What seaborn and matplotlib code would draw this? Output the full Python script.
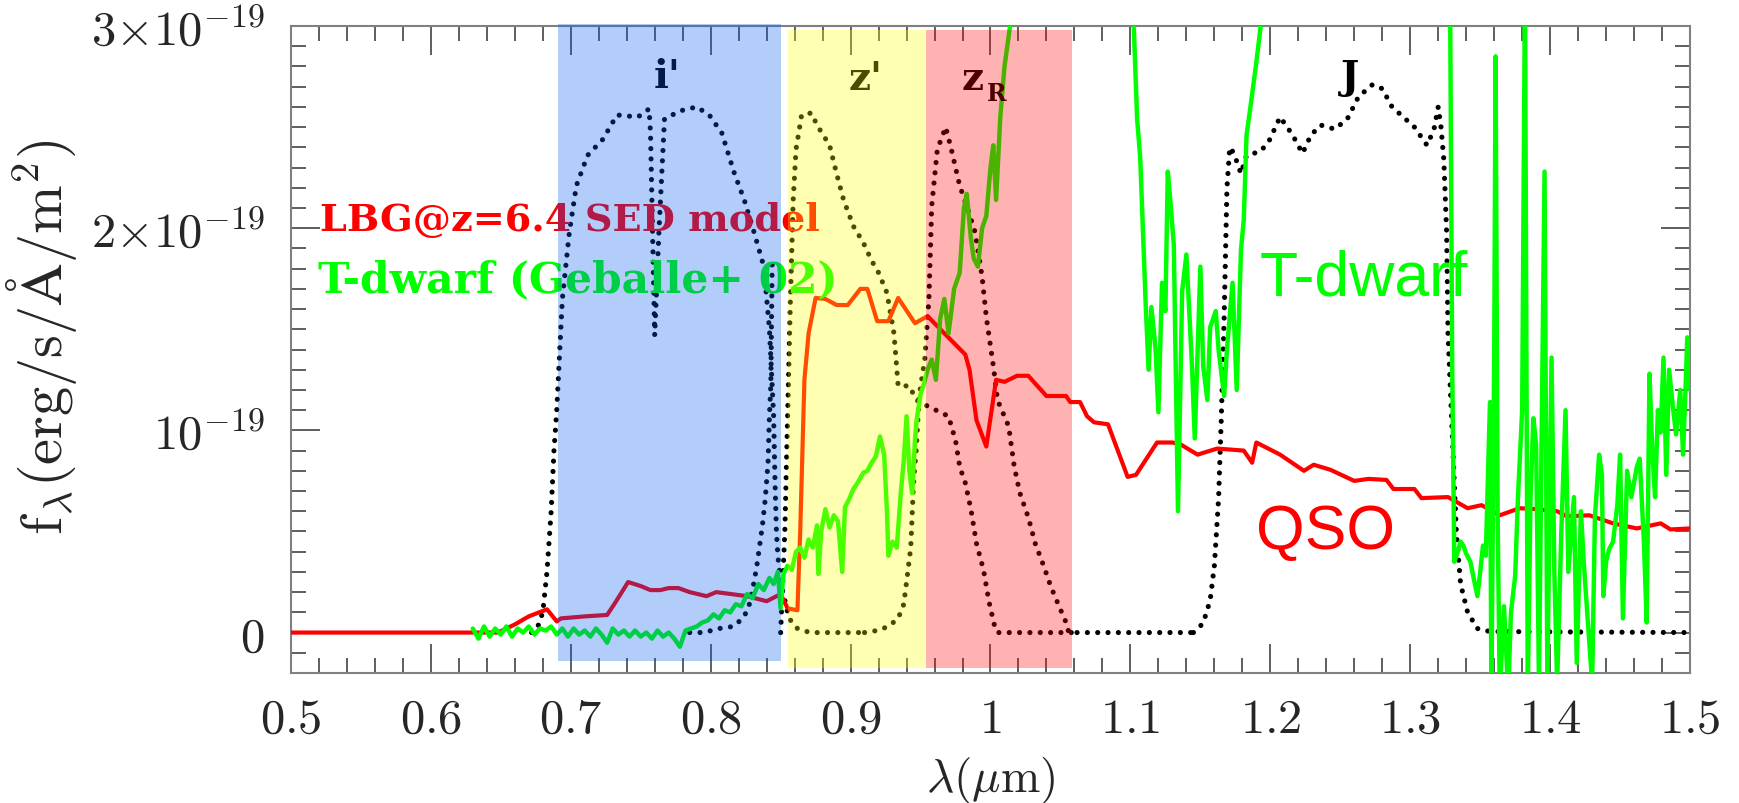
import matplotlib
matplotlib.use("Agg")
import matplotlib.pyplot as plt
from matplotlib.patches import Rectangle
from matplotlib.ticker import MultipleLocator, FuncFormatter
import seaborn as sns

# Wavelength in micron, flux density in units of 1e-19 erg/s/A/m^2
qso_wl = [0.500, 0.648, 0.660, 0.670, 0.683, 0.690, 0.693, 0.710, 0.726, 0.732,
          0.741, 0.750, 0.757, 0.764, 0.770, 0.777, 0.785, 0.797, 0.804, 0.815,
          0.826, 0.840, 0.850, 0.855, 0.862, 0.864, 0.867, 0.870, 0.875, 0.882,
          0.890, 0.898, 0.907, 0.912, 0.919, 0.927, 0.934, 0.946, 0.955, 0.967,
          0.982, 0.985, 0.990, 0.997, 1.004, 1.010, 1.019, 1.027, 1.040, 1.054,
          1.057, 1.064, 1.069, 1.074, 1.084, 1.098, 1.104, 1.119, 1.130, 1.136,
          1.148, 1.162, 1.181, 1.187, 1.190, 1.207, 1.224, 1.231, 1.243, 1.260,
          1.270, 1.283, 1.288, 1.303, 1.308, 1.327, 1.341, 1.351, 1.364, 1.378,
          1.391, 1.405, 1.412, 1.428, 1.445, 1.462, 1.479, 1.486, 1.500]
qso_flux = [0.0, 0.0, 0.04, 0.08, 0.115, 0.055, 0.07, 0.08, 0.087, 0.15,
            0.25, 0.23, 0.21, 0.21, 0.22, 0.22, 0.20, 0.18, 0.20, 0.19,
            0.18, 0.155, 0.19, 0.12, 0.11, 0.50, 1.25, 1.48, 1.655, 1.65,
            1.62, 1.62, 1.70, 1.70, 1.54, 1.54, 1.655, 1.53, 1.565, 1.48,
            1.375, 1.30, 1.05, 0.92, 1.25, 1.24, 1.27, 1.27, 1.17, 1.17,
            1.14, 1.14, 1.07, 1.04, 1.03, 0.77, 0.78, 0.94, 0.94, 0.93,
            0.88, 0.91, 0.90, 0.84, 0.94, 0.88, 0.80, 0.83, 0.805, 0.75,
            0.76, 0.755, 0.71, 0.71, 0.665, 0.67, 0.615, 0.63, 0.58, 0.615,
            0.61, 0.60, 0.575, 0.58, 0.54, 0.515, 0.54, 0.51, 0.515]

tdwarf_wl = [
    0.630, 0.634, 0.638, 0.642, 0.646, 0.650, 0.654, 0.658, 0.662, 0.666,
    0.670, 0.674, 0.678, 0.682, 0.686, 0.690, 0.694, 0.698, 0.702, 0.706,
    0.710, 0.714, 0.718, 0.722, 0.726, 0.730, 0.734, 0.738, 0.742, 0.746,
    0.750, 0.754, 0.758, 0.762, 0.766, 0.770, 0.774, 0.778, 0.782, 0.786,
    0.790, 0.794, 0.798,
    0.802, 0.806, 0.810, 0.814, 0.818, 0.822, 0.826, 0.830, 0.834, 0.838,
    0.842, 0.845, 0.848, 0.850, 0.852, 0.855, 0.858, 0.861, 0.864, 0.867,
    0.870, 0.873, 0.876, 0.877, 0.879, 0.882, 0.885, 0.888, 0.891, 0.894,
    0.896, 0.899, 0.902, 0.905, 0.909, 0.912, 0.915, 0.918, 0.921, 0.924,
    0.926, 0.927, 0.930, 0.933, 0.936, 0.938, 0.940, 0.942, 0.944, 0.946,
    0.947, 0.950, 0.952,
    0.955, 0.958, 0.961, 0.964, 0.967, 0.970, 0.974, 0.978, 0.981, 0.983,
    0.986, 0.988, 0.991, 0.994, 0.997, 1.000, 1.002, 1.004, 1.007, 1.010,
    1.013, 1.016, 1.020, 1.060,
    1.100, 1.1024, 1.1048, 1.107, 1.1095, 1.111, 1.113, 1.115, 1.118, 1.120,
    1.1226, 1.125, 1.1267, 1.1286, 1.131, 1.134, 1.137, 1.140, 1.144, 1.146,
    1.150, 1.152, 1.155, 1.157, 1.161, 1.163, 1.167, 1.169, 1.173, 1.176,
    1.179, 1.181, 1.183, 1.186, 1.190, 1.194, 1.200, 1.260,
    1.326, 1.3286, 1.330, 1.331, 1.3315, 1.334, 1.336, 1.338, 1.340, 1.343,
    1.345, 1.348, 1.350, 1.352, 1.354, 1.357, 1.358, 1.360, 1.361, 1.3625,
    1.364, 1.367, 1.370, 1.372, 1.375, 1.377, 1.380, 1.382, 1.384, 1.386,
    1.388, 1.390, 1.392, 1.396, 1.398, 1.401, 1.403, 1.405, 1.408, 1.411,
    1.413, 1.417, 1.419, 1.422, 1.424, 1.426, 1.430, 1.432, 1.435, 1.437,
    1.438, 1.440, 1.442, 1.445, 1.448, 1.450, 1.452, 1.455, 1.458, 1.462,
    1.464, 1.467, 1.469, 1.471, 1.473, 1.475, 1.477, 1.479, 1.481, 1.483,
    1.485, 1.488, 1.490, 1.493, 1.495, 1.497, 1.498, 1.500]
tdwarf_flux = [
    0.02, -0.03, 0.03, -0.02, 0.02, -0.01, 0.03, -0.02, 0.02, 0.00,
    0.03, -0.01, 0.02, 0.01, 0.03, -0.01, 0.02, -0.02, 0.02, -0.01,
    0.01, -0.02, 0.02, -0.01, -0.05, 0.02, -0.01, 0.01, -0.02, 0.01,
    -0.02, 0.00, -0.03, 0.01, -0.02, 0.00, -0.03, -0.07, 0.01, 0.02,
    0.03, 0.05, 0.06,
    0.09, 0.07, 0.11, 0.10, 0.14, 0.13, 0.19, 0.17, 0.24, 0.21,
    0.27, 0.24, 0.30, 0.12, 0.29, 0.33, 0.31, 0.40, 0.42, 0.37,
    0.46, 0.42, 0.53, 0.29, 0.50, 0.61, 0.52, 0.58, 0.55, 0.30,
    0.62, 0.66, 0.71, 0.74, 0.79, 0.80, 0.84, 0.87, 0.97, 0.88,
    0.60, 0.38, 0.45, 0.42, 0.70, 0.85, 1.07, 0.80, 0.69, 0.95,
    1.04, 1.18, 1.22,
    1.30, 1.35, 1.25, 1.55, 1.65, 1.48, 1.70, 1.78, 2.10, 2.17,
    1.95, 1.85, 1.81, 2.00, 2.06, 2.30, 2.41, 2.14, 2.55, 2.80,
    2.95, 3.10, 3.60, 4.50,
    3.60, 3.00, 2.54, 2.35, 1.89, 1.61, 1.30, 1.61, 1.40, 1.09,
    1.73, 1.59, 2.28, 2.13, 1.92, 0.60, 1.69, 1.87, 1.32, 0.96,
    1.81, 1.32, 1.15, 1.51, 1.59, 1.40, 1.17, 1.40, 1.73, 1.20,
    1.89, 2.04, 2.46, 2.61, 2.82, 3.05, 3.60, 4.50,
    4.50, 3.00, 1.31, 0.67, 0.35, 0.40, 0.45, 0.43, 0.39, 0.35,
    0.28, 0.18, 0.30, 0.43, 0.38, 1.14, -0.30, 1.36, 2.85, 0.55,
    -0.30, 0.13, -0.30, 0.10, 0.28, 0.67, 1.10, 3.20, -0.30, 0.67,
    1.06, 0.93, -0.25, 2.28, -0.25, 1.36, 0.30, -0.25, 0.50, 1.10,
    0.30, 0.67, -0.15, 0.60, 0.35, 0.15, -0.25, 0.57, 0.88, 0.78,
    0.18, 0.35, 0.41, 0.45, 0.63, 0.88, 0.07, 0.80, 0.67, 0.82,
    0.86, 0.45, 0.05, 1.28, 0.90, 0.67, 1.10, 0.99, 1.36, 0.78,
    1.30, 1.10, 0.98, 1.20, 0.88, 1.25, 1.46, 1.20]

# Filter transmission curves, scaled onto the flux axis
ip_wl = [0.672, 0.676, 0.680, 0.683, 0.686, 0.688, 0.690, 0.694, 0.699, 0.704,
         0.712, 0.723, 0.733, 0.748, 0.756, 0.757, 0.760, 0.763, 0.767, 0.778,
         0.790, 0.799, 0.808, 0.817, 0.824, 0.831, 0.838, 0.842, 0.845, 0.846,
         0.847, 0.848, 0.850, 0.856, 0.862, 0.871, 0.910]
ip_resp = [0.0, 0.02, 0.10, 0.30, 0.60, 0.90, 1.10, 1.65, 1.98, 2.21,
           2.36, 2.44, 2.56, 2.55, 2.59, 2.47, 1.47, 1.98, 2.54, 2.58,
           2.60, 2.56, 2.47, 2.27, 2.14, 1.98, 1.81, 1.50, 1.07, 0.74,
           0.50, 0.38, 0.25, 0.07, 0.02, 0.0, 0.0]
ip_wing_wl = [0.785, 0.795, 0.806, 0.816, 0.823, 0.827, 0.831, 0.833, 0.837,
              0.839, 0.841, 0.842, 0.843, 0.8435, 0.844]
ip_wing_resp = [0.0, 0.0, 0.02, 0.03, 0.07, 0.12, 0.25, 0.33, 0.53,
                0.66, 0.84, 1.07, 1.23, 1.55, 1.85]
zp_wl = [0.850, 0.853, 0.855, 0.857, 0.859, 0.861, 0.865, 0.872, 0.876, 0.885,
         0.890, 0.895, 0.902, 0.909, 0.915, 0.920, 0.926, 0.931, 0.934, 0.942,
         0.947, 0.955, 0.964, 0.970, 0.975, 0.978, 0.982, 0.986, 0.990, 0.995,
         0.999, 1.003, 1.005, 1.060]
zp_resp = [0.0, 0.50, 1.07, 1.65, 2.14, 2.39, 2.56, 2.57, 2.51, 2.41,
           2.27, 2.14, 2.01, 1.93, 1.84, 1.78, 1.68, 1.48, 1.22, 1.22,
           1.15, 1.12, 1.09, 1.07, 0.95, 0.82, 0.74, 0.61, 0.44, 0.31,
           0.15, 0.03, 0.0, 0.0]
zr_wl = [0.910, 0.919, 0.927, 0.934, 0.938, 0.940, 0.943, 0.945, 0.947, 0.949,
         0.953, 0.956, 0.958, 0.962, 0.968, 0.972, 0.978, 0.983, 0.989, 0.994,
         0.997, 1.002, 1.005, 1.013, 1.017, 1.021, 1.027, 1.032, 1.038, 1.043,
         1.049, 1.054, 1.056, 1.145]
zr_resp = [0.0, 0.01, 0.03, 0.07, 0.14, 0.25, 0.42, 0.74, 0.91, 1.17,
           1.35, 1.65, 2.11, 2.39, 2.50, 2.39, 2.21, 2.11, 1.98, 1.76,
           1.56, 1.32, 1.15, 1.02, 0.82, 0.69, 0.57, 0.44, 0.33, 0.23,
           0.13, 0.05, 0.0, 0.0]
j_wl = [1.145, 1.152, 1.157, 1.160, 1.163, 1.165, 1.167, 1.169, 1.171, 1.174,
        1.179, 1.183, 1.193, 1.199, 1.207, 1.216, 1.223, 1.229, 1.236, 1.246,
        1.255, 1.263, 1.273, 1.280, 1.287, 1.295, 1.303, 1.312, 1.317, 1.320,
        1.322, 1.324, 1.326, 1.327, 1.329, 1.331, 1.333, 1.336, 1.341, 1.348,
        1.357, 1.500]
j_resp = [0.0, 0.046, 0.16, 0.33, 0.66, 1.07, 1.56, 2.20, 2.40, 2.37,
          2.27, 2.36, 2.38, 2.43, 2.55, 2.46, 2.37, 2.46, 2.51, 2.49,
          2.54, 2.65, 2.71, 2.69, 2.60, 2.55, 2.50, 2.41, 2.49, 2.60,
          2.50, 2.34, 1.98, 1.48, 1.15, 0.82, 0.49, 0.24, 0.10, 0.02,
          0.005, 0.0]

# Shaded pass-bands (micron)
band_lo = [0.691, 0.855, 0.954]
band_hi = [0.850, 0.954, 1.058]

# ---- style ----
sns.set_theme(style="ticks")
plt.rcParams["font.family"] = ["DejaVu Serif", "DejaVu Sans"]
plt.rcParams["mathtext.fontset"] = "cm"

RED = "#ff0000"
GREEN = "#00ff00"
band_colors = ["#005af0", "#ffff00", "#ff0000"]
band_alpha = 0.30
band_bottom = [-0.14, -0.175, -0.175]
band_top = [3.01, 2.98, 2.98]

fig = plt.figure(figsize=(17.40, 8.04), dpi=100)
ax = fig.add_axes([0.1672, 0.1617, 0.8041, 0.8047])


def draw(wl, val, color, lw, dotted=False):
    sns.lineplot(x=wl, y=val, color=color, sort=False, estimator=None, ax=ax)
    line = ax.lines[-1]
    line.set_linewidth(lw)
    line.set_solid_joinstyle("round")
    if dotted:
        line.set_linestyle((0, (0.01, 2.0)))
        line.set_dash_capstyle("round")
        line.set_zorder(3)
    else:
        line.set_zorder(4)


for wl, resp in [(ip_wl, ip_resp), (ip_wing_wl, ip_wing_resp), (zp_wl, zp_resp),
                 (zr_wl, zr_resp), (j_wl, j_resp)]:
    draw(wl, resp, "black", 3.7, dotted=True)

draw(qso_wl, qso_flux, RED, 3.0)
draw(tdwarf_wl, tdwarf_flux, GREEN, 3.2)

# Legend-like captions
cap_font = dict(family="DejaVu Serif", weight="bold", zorder=5)
ax.text(0.521, 1.99, "LBG@z=6.4 SED model", color=RED, ha="left",
        va="baseline", fontsize=27.5, **cap_font)
ax.text(0.519, 1.69, "T-dwarf (Geballe+ 02)", color=GREEN, ha="left",
        va="baseline", fontsize=30.5, **cap_font)

big_font = dict(family="Liberation Sans", fontsize=45, zorder=5)
ax.text(1.192, 1.67, "T-dwarf", color=GREEN, ha="left", va="baseline", **big_font)
ax.text(1.190, 0.42, "QSO", color=RED, ha="left", va="baseline", **big_font)

# Filter names
band_font = dict(family="DejaVu Serif", weight="bold", fontsize=28,
                 color="black", zorder=5, va="baseline")
ax.text(0.769, 2.70, "i'", ha="center", **band_font)
ax.text(0.911, 2.69, "z'", ha="center", **band_font)
ax.text(0.9875, 2.69, "z", ha="center", **band_font)
ax.text(0.9975, 2.635, "R", ha="left", family="DejaVu Serif", weight="bold",
        fontsize=17, color="black", zorder=5, va="baseline")
ax.text(1.257, 2.695, "J", ha="center", **band_font)

# Translucent pass-band overlays
for lo, hi, c, b, t in zip(band_lo, band_hi, band_colors, band_bottom, band_top):
    ax.add_patch(Rectangle((lo, b), hi - lo, t - b, facecolor=c, edgecolor="none",
                           alpha=band_alpha, zorder=10, clip_on=False))

# Axes
ax.set_xlim(0.5, 1.5)
ax.set_ylim(-0.2, 3.0)
ax.xaxis.set_major_locator(MultipleLocator(0.1))
ax.xaxis.set_minor_locator(MultipleLocator(0.02))
ax.yaxis.set_major_locator(MultipleLocator(1.0))
ax.yaxis.set_minor_locator(MultipleLocator(0.1))


def xfmt(v, pos):
    return f"${round(v, 1):g}$"


def yfmt(v, pos):
    n = int(round(v))
    if n == 0:
        return "$0$"
    if n == 1:
        return r"$10^{-19}$"
    return rf"${n}{{\times}}10^{{-19}}$"


ax.xaxis.set_major_formatter(FuncFormatter(xfmt))
ax.yaxis.set_major_formatter(FuncFormatter(yfmt))
ax.tick_params(which="both", direction="in", top=True, right=True,
               color="#333333", width=1.1)
ax.tick_params(which="major", length=21)
ax.tick_params(which="minor", length=11)
ax.tick_params(axis="x", which="major", labelsize=35, pad=16)
ax.tick_params(axis="y", which="major", labelsize=35, pad=19)
for s in ax.spines.values():
    s.set_color("#808080")
    s.set_linewidth(1.5)

ax.set_xlabel(r"$\lambda(\mu\mathrm{m})$", fontsize=34)
ax.xaxis.set_label_coords(0.5, -0.164)
ax.xaxis.label.set_va("center")
ax.set_ylabel(r"$\mathrm{f_{\lambda}(erg/s/\AA/m^2)}$", fontsize=42)
ax.yaxis.set_label_coords(-0.178, 0.52)
ax.yaxis.label.set_va("center")

fig.savefig("out.png", dpi=100)
